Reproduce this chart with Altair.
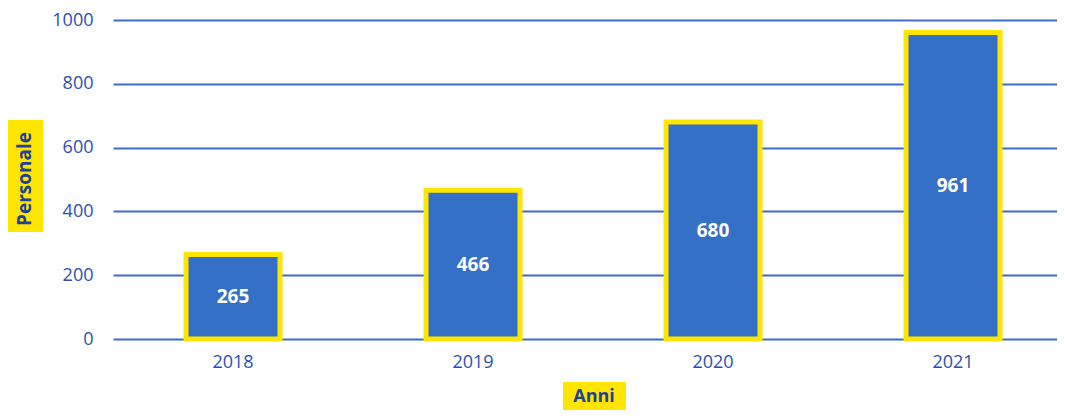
import altair as alt
import pandas as pd

years = ["2018", "2019", "2020", "2021"]
personale = [265, 466, 680, 961]

df = pd.DataFrame({"Anni": years, "Personale": personale})

BLUE = "#3470C6"
YELLOW = "#FFE500"
GRID = "#3F6AC6"
LABEL = "#2A4FB3"
TITLE = "#21409A"
FONT = "Open Sans"

base = alt.Chart(df)

x = alt.X("Anni:N", sort=years,
          scale=alt.Scale(range=[0, 960], paddingInner=0, paddingOuter=0),
          axis=alt.Axis(title=None, labelAngle=0, ticks=False, domain=False,
                        labelFontSize=18, labelColor=LABEL, labelFont=FONT,
                        labelPadding=14, grid=False))
y = alt.Y("Personale:Q", scale=alt.Scale(domain=[0, 1000]),
          axis=alt.Axis(title=None, values=[0, 200, 400, 600, 800, 1000],
                        format="d",
                        ticks=False, domain=False, grid=True, gridColor=GRID,
                        gridWidth=2, labelFontSize=18, labelColor=LABEL,
                        labelFont=FONT, labelPadding=20))

bars = base.mark_bar(size=94, color=BLUE, stroke=YELLOW, strokeWidth=5).encode(x=x, y=y)

labels = base.transform_calculate(mid="datum.Personale / 2").mark_text(
    color="white", fontWeight="bold", fontSize=19, font=FONT, baseline="middle"
).encode(x=alt.X("Anni:N", sort=years), y=alt.Y("mid:Q"), text="Personale:Q")

one = alt.Data(values=[{"a": 1}])

ybox = alt.Chart(one).mark_rect(color=YELLOW).encode(
    x=alt.value(-106), x2=alt.value(-70), y=alt.value(100), y2=alt.value(212))
ytitle = alt.Chart(one).mark_text(
    text="Personale", angle=270, fontSize=19, fontWeight="bold", font=FONT,
    color=TITLE, align="center", baseline="middle"
).encode(x=alt.value(-88), y=alt.value(159))

xbox = alt.Chart(one).mark_rect(color=YELLOW).encode(
    x=alt.value(450), x2=alt.value(513), y=alt.value(362), y2=alt.value(395))
xtitle = alt.Chart(one).mark_text(
    text="Anni", fontSize=18, fontWeight="bold", font=FONT,
    color=TITLE, align="center", baseline="middle"
).encode(x=alt.value(481), y=alt.value(377))

chart = alt.layer(bars, labels, ybox, ytitle, xbox, xtitle).properties(
    width=944, height=319,
    autosize=alt.AutoSizeParams(type="none"),
    padding={"left": 105, "top": 12, "right": 0, "bottom": 71},
).configure_view(stroke=None)

chart.save("out.html", embed_options={"renderer": "svg", "actions": False})
